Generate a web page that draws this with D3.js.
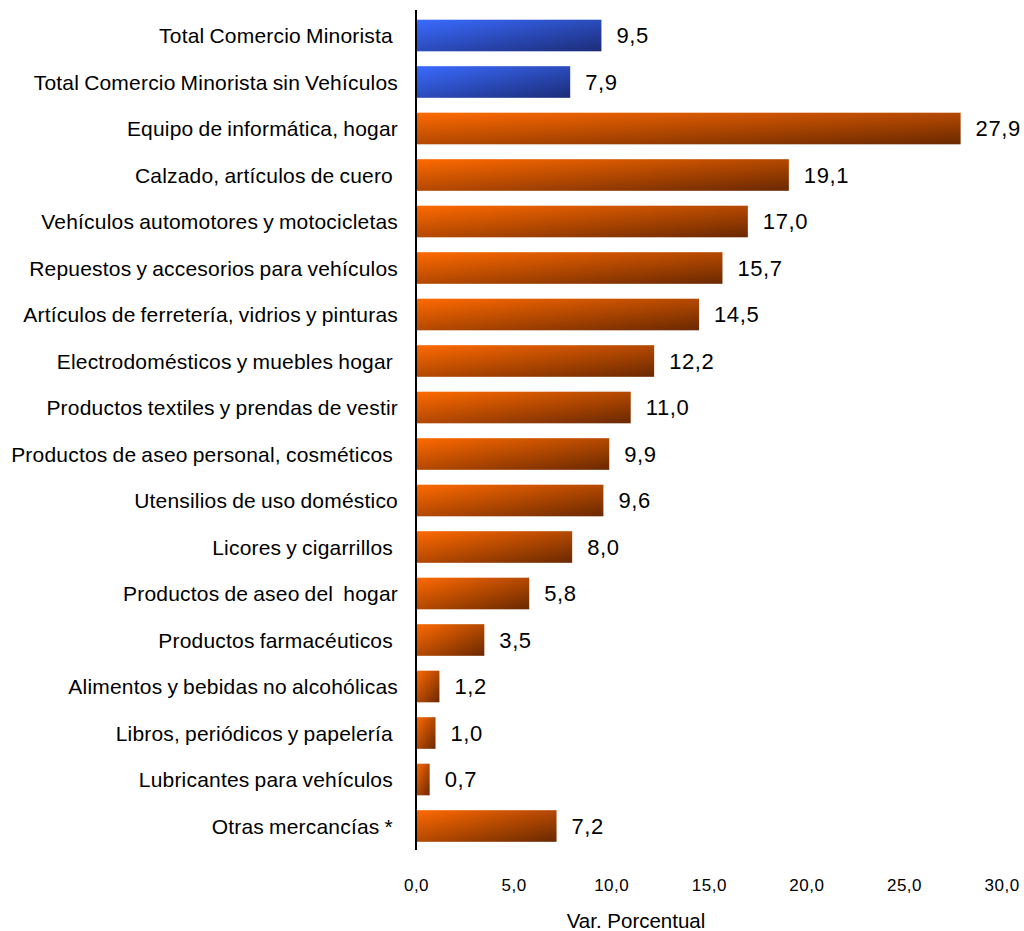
<!DOCTYPE html>
<html>
<head>
<meta charset="utf-8">
<script src="https://cdn.jsdelivr.net/npm/d3@7"></script>
<style>
  html, body { margin: 0; padding: 0; background: #fff; }
  svg { display: block; font-family: "Liberation Sans", Arial, sans-serif; }
  text { white-space: pre; }
</style>
</head>
<body>
<svg id="chart" width="1024" height="931"></svg>
<script>
// Variación porcentual por línea de mercancía
const categories = [
  "Total Comercio Minorista ",
  "Total Comercio Minorista sin Vehículos",
  "Equipo de informática, hogar",
  "Calzado, artículos de cuero ",
  "Vehículos automotores y motocicletas",
  "Repuestos y accesorios para vehículos",
  "Artículos de ferretería, vidrios y pinturas",
  "Electrodomésticos y muebles hogar ",
  "Productos textiles y prendas de vestir",
  "Productos de aseo personal, cosméticos ",
  "Utensilios de uso doméstico",
  "Licores y cigarrillos ",
  "Productos de aseo del  hogar",
  "Productos farmacéuticos ",
  "Alimentos y bebidas no alcohólicas",
  "Libros, periódicos y papelería ",
  "Lubricantes para vehículos ",
  "Otras mercancías * "
];
const values = [9.5, 7.9, 27.9, 19.1, 17.0, 15.7, 14.5, 12.2, 11.0, 9.9, 9.6, 8.0, 5.8, 3.5, 1.2, 1.0, 0.7, 7.2];
// grupos: totales (azul) y líneas de mercancía (naranja)
const groups = ["total", "total", "linea", "linea", "linea", "linea", "linea", "linea", "linea",
                "linea", "linea", "linea", "linea", "linea", "linea", "linea", "linea", "linea"];
const xTicks = [0, 5, 10, 15, 20, 25, 30];
const axisTitle = "Var. Porcentual";

const fmt = v => v.toFixed(1).replace(".", ",");

const svg = d3.select("#chart");
const x0 = 416, x1 = 1001.6;
const x = d3.scaleLinear().domain([0, 30]).range([x0, x1]);
const y = d3.scaleBand().domain(categories).range([12.25, 849.25]).paddingInner(0.32).paddingOuter(0.16);

// degradados diagonales de cada barra
const defs = svg.append("defs");
const grads = {
  total: ["#3A6BFF", "#1C2C78"],
  linea: ["#FF6A00", "#6A2800"]
};
Object.entries(grads).forEach(([k, c]) => {
  const g = defs.append("linearGradient").attr("id", "g-" + k)
    .attr("x1", 0).attr("y1", 0).attr("x2", 1).attr("y2", 1);
  g.append("stop").attr("offset", "0%").attr("stop-color", c[0]);
  g.append("stop").attr("offset", "100%").attr("stop-color", c[1]);
});

const rows = categories.map((c, i) => ({ c, v: values[i], g: groups[i] }));

svg.append("g").selectAll("rect").data(rows).join("rect")
  .attr("x", x(0))
  .attr("y", d => y(d.c))
  .attr("width", d => x(d.v) - x(0))
  .attr("height", y.bandwidth())
  .attr("fill", d => `url(#g-${d.g})`);

// etiquetas de valor
svg.append("g").selectAll("text").data(rows).join("text")
  .attr("x", d => x(d.v) + 15)
  .attr("y", d => y(d.c) + y.bandwidth() / 2)
  .attr("dy", "0.36em")
  .attr("font-size", 22)
  .attr("letter-spacing", 0.6)
  .attr("fill", "#000")
  .text(d => fmt(d.v));

// etiquetas de categoría
svg.append("g").selectAll("text").data(rows).join("text")
  .attr("x", 398)
  .attr("y", d => y(d.c) + y.bandwidth() / 2)
  .attr("dy", "0.36em")
  .attr("text-anchor", "end")
  .attr("font-size", 21)
  .attr("letter-spacing", 0.2)
  .attr("word-spacing", -1)
  .attr("fill", "#000")
  .text(d => d.c);

// eje vertical
svg.append("line")
  .attr("x1", x(0)).attr("x2", x(0))
  .attr("y1", 10).attr("y2", 850)
  .attr("stroke", "#000").attr("stroke-width", 2);

// eje horizontal (solo etiquetas)
const xAxis = d3.axisBottom(x).tickValues(xTicks).tickFormat(fmt).tickSize(0).tickPadding(0);
const gx = svg.append("g").attr("transform", "translate(0,879)").call(xAxis);
gx.select(".domain").remove();
gx.selectAll("text")
  .attr("font-family", "Liberation Sans, Arial, sans-serif")
  .attr("font-size", 17)
  .attr("letter-spacing", 0.5)
  .attr("fill", "#000");

svg.append("text")
  .attr("x", 636).attr("y", 928)
  .attr("text-anchor", "middle")
  .attr("font-size", 20.5)
  .attr("fill", "#000")
  .text(axisTitle);
</script>
</body>
</html>
